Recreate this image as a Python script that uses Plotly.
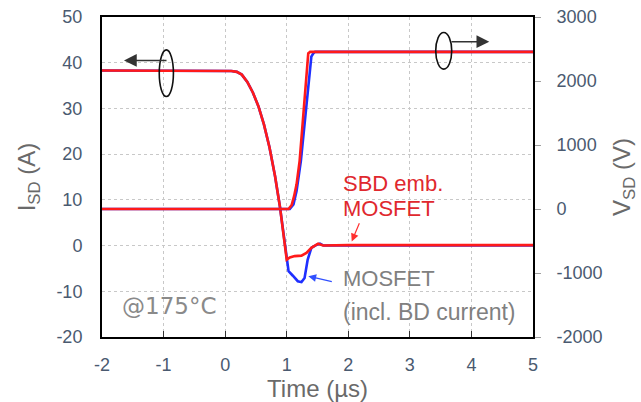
import plotly.graph_objects as go

# ---- data ----
# Current I_SD (A), left axis
t_i_sbd = [-2.0, 0.0, 0.10, 0.19, 0.27, 0.36, 0.45, 0.54, 0.63, 0.72, 0.81, 0.89, 0.96, 1.00, 1.05, 1.13, 1.24, 1.32, 1.40, 1.51, 1.59, 2.0, 5.0]
i_sbd = [38.3, 38.3, 38.2, 38.0, 37.4, 35.8, 33.5, 30.5, 26.5, 21.5, 15.2, 8.5, 1.5, -3.1, -2.6, -2.3, -2.2, -1.6, -0.5, 0.4, 0.0, 0.1, 0.1]

t_i_mos = [-2.0, 0.0, 0.10, 0.19, 0.27, 0.36, 0.45, 0.54, 0.63, 0.72, 0.81, 0.89, 0.96, 1.00, 1.03, 1.10, 1.18, 1.24, 1.29, 1.34, 1.40, 1.49, 1.54, 1.60, 2.0, 5.0]
i_mos = [38.3, 38.3, 38.2, 38.0, 37.4, 35.8, 33.5, 30.5, 26.5, 21.5, 15.2, 8.5, 1.5, -3.1, -5.6, -6.6, -7.8, -8.0, -7.1, -3.1, -0.5, 0.2, 0.4, 0.0, 0.0, 0.0]

# Voltage V_SD (V), right axis
t_v_sbd = [-2.0, 1.03, 1.08, 1.12, 1.16, 1.21, 1.35, 1.38, 5.0]
v_sbd = [0, 0, 60, 200, 385, 752, 2430, 2455, 2455]

t_v_mos = [-2.0, 1.05, 1.11, 1.16, 1.23, 1.40, 1.43, 1.46, 5.0]
v_mos = [0, 0, 70, 280, 752, 2380, 2430, 2455, 2455]

x_ticks = [-2, -1, 0, 1, 2, 3, 4, 5]
y_left_ticks = [-20, -10, 0, 10, 20, 30, 40, 50]
y_right_ticks = [-2000, -1000, 0, 1000, 2000, 3000]

RED = "#FF1A1A"
BLUE = "#1F2FFF"
TICK_COL = "#4A5A70"
TITLE_COL = "#6A6A6A"
FONT = "Liberation Sans, Arial, sans-serif"

fig = go.Figure()
fig.add_trace(go.Scatter(x=t_i_mos, y=i_mos, mode="lines", line=dict(color=BLUE, width=2.6), name="MOSFET I"))
fig.add_trace(go.Scatter(x=t_v_mos, y=v_mos, mode="lines", line=dict(color=BLUE, width=2.6), name="MOSFET V", yaxis="y2"))
fig.add_trace(go.Scatter(x=t_i_sbd, y=i_sbd, mode="lines", line=dict(color=RED, width=2.6), name="SBD I"))
fig.add_trace(go.Scatter(x=t_v_sbd, y=v_sbd, mode="lines", line=dict(color=RED, width=2.6), name="SBD V", yaxis="y2"))

# ellipses marking which axis each curve belongs to
fig.add_shape(type="circle", xref="x", yref="y", x0=-1.07, x1=-0.84, y0=32.6, y1=42.8,
              line=dict(color="#111111", width=1.6))
fig.add_shape(type="circle", xref="x", yref="y", x0=3.42, x1=3.68, y0=38.6, y1=46.6,
              line=dict(color="#111111", width=1.6))

def arrow(x, y, ax, ay, color, width=1.5, size=1.2):
    fig.add_annotation(x=x, y=y, ax=ax, ay=ay, xref="x", yref="y", axref="x", ayref="y",
                       text="", showarrow=True, arrowhead=2, arrowsize=size,
                       arrowwidth=width, arrowcolor=color)

arrow(-1.643, 40.5, -0.928, 40.5, "#333333", 1.5, 1.7)
arrow(4.29, 44.6, 3.652, 44.6, "#333333", 1.5, 1.7)
arrow(2.056, 0.9, 2.19, 5.2, "#FF3030", 1.2, 1.3)
arrow(1.351, -6.7, 1.757, -7.96, "#3050FF", 1.2, 1.3)

def label(x, y, text, color, size=22, family=FONT):
    fig.add_annotation(x=x, y=y, xref="x", yref="y", text=text, showarrow=False,
                       xanchor="left", yanchor="middle",
                       font=dict(family=family, size=size, color=color))

label(1.88, 13.6, "SBD emb.", "#E0282E")
label(1.88, 8.1, "MOSFET", "#E0282E")
label(1.88, -7.2, "MOSFET", "#808080")
label(1.88, -14.5, "(incl. BD current)", "#808080", 23)
label(-1.70, -13.3, "@175°C", "#8A8A8A", 23, "DejaVu Sans, sans-serif")

fig.update_layout(
    width=641, height=402,
    margin=dict(l=102, r=108, t=17, b=65),
    paper_bgcolor="white", plot_bgcolor="white",
    showlegend=False,
    font=dict(family=FONT, size=18, color=TICK_COL),
    xaxis=dict(range=[-2, 5], tickvals=x_ticks, ticktext=[str(v) for v in x_ticks],
               ticks="inside", ticklen=6, tickcolor="#333333",
               showline=True, linecolor="black", linewidth=2, mirror=True,
               showgrid=True, gridcolor="#C8C8C8", griddash="dot", gridwidth=1,
               zeroline=False, ticklabelstandoff=10, automargin=False,
               tickfont=dict(size=18, color=TICK_COL),
               title=dict(text="Time (µs)", font=dict(size=24, color=TITLE_COL), standoff=2)),
    yaxis=dict(range=[-20, 50], tickvals=y_left_ticks, ticktext=[str(v) for v in y_left_ticks],
               ticks="",
               showline=True, linecolor="black", linewidth=2, mirror=True,
               showgrid=True, gridcolor="#C8C8C8", griddash="dot", gridwidth=1,
               zeroline=False, ticklabelstandoff=14, automargin=False,
               tickfont=dict(size=18, color=TICK_COL),
               title=dict(text="I<sub>SD</sub> (A)", font=dict(size=24, color=TITLE_COL), standoff=14)),
    yaxis2=dict(range=[-2000, 3000], tickvals=y_right_ticks, ticktext=[str(v) for v in y_right_ticks],
                overlaying="y", side="right",
                ticks="outside", ticklen=6, tickcolor="#A0A0A0",
                showline=True, linecolor="black", linewidth=2,
                showgrid=False, zeroline=False, ticklabelstandoff=12, automargin=False,
                tickfont=dict(size=18, color=TICK_COL),
                title=dict(text="V<sub>SD</sub> (V)", font=dict(size=24, color=TITLE_COL), standoff=12)),
)

fig.write_html("out.html")
